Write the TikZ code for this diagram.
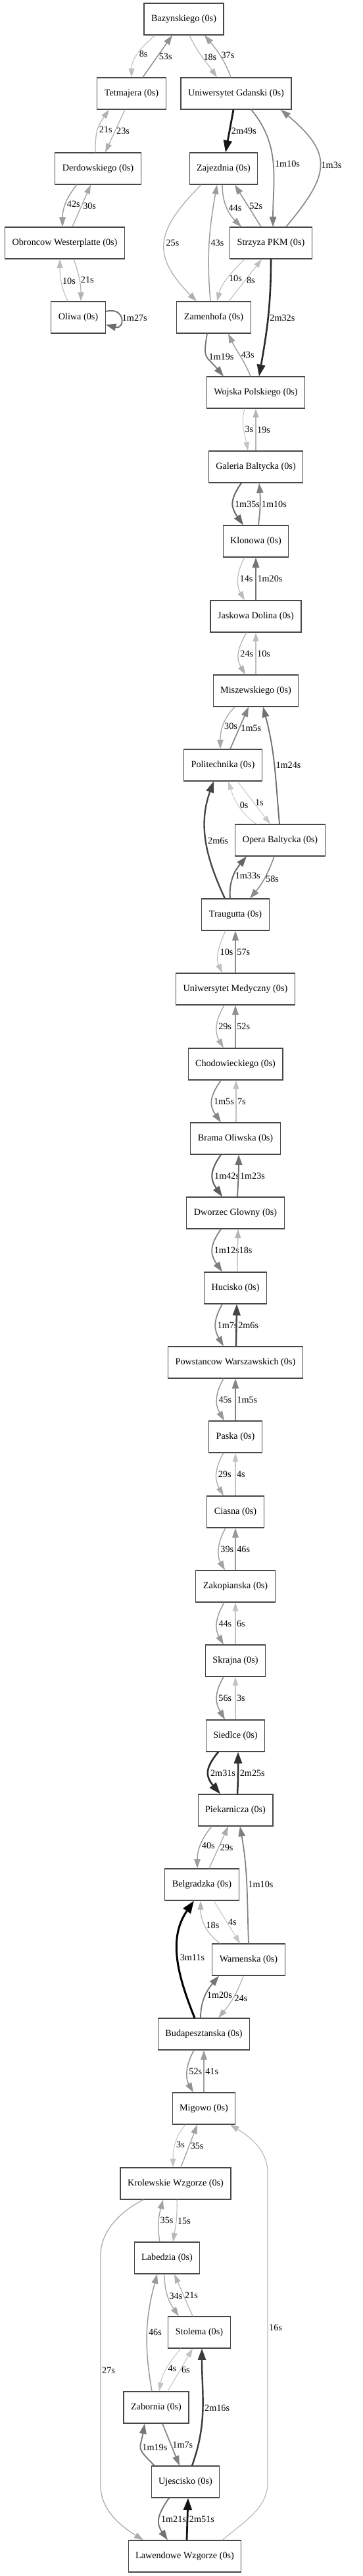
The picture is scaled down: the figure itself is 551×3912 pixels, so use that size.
\documentclass[tikz,border=0pt]{standalone}
\usepackage{fontspec}
\setmainfont{Liberation Serif}
\usetikzlibrary{arrows.meta}

\begin{document}
\begin{tikzpicture}[x=0.75pt, y=0.75pt,
  font=\fontsize{10.65pt}{12pt}\selectfont,
  stop/.style = {shape=rectangle, draw=black!72, line width=0.85pt,
    minimum height=36pt, inner xsep=8.25pt},
  lbl/.style = {anchor=west, inner sep=1.2pt},
  sec/.style = {/utils/exec={\pgfmathtruncatemacro\edgegray{22+0.41*#1}%
      \pgfmathsetmacro\edgewidth{0.75+1.5*#1/191}},
    draw=black!\edgegray, line width=\edgewidth pt,
    -{Triangle[length=7.5pt 3, width=4.5pt 2.5]}},
 ]
 \useasboundingbox (0,0) rectangle (551,-3912);

 \node[stop] (baz) at (279.5,-29) {Bazynskiego (0s)};
 \node[stop] (tet) at (200,-142) {Tetmajera (0s)};
 \node[stop] (ug) at (359,-142) {Uniwersytet Gdanski (0s)};
 \node[stop] (der) at (149,-256) {Derdowskiego (0s)};
 \node[stop] (zaj) at (340,-256) {Zajezdnia (0s)};
 \node[stop] (obr) at (98.5,-369) {Obroncow Westerplatte (0s)};
 \node[stop] (strz) at (412,-369) {Strzyza PKM (0s)};
 \node[stop] (oli) at (119,-482) {Oliwa (0s)};
 \node[stop] (zam) at (325,-482) {Zamenhofa (0s)};
 \node[stop] (woj) at (389,-596) {Wojska Polskiego (0s)};
 \node[stop] (gal) at (389,-709) {Galeria Baltycka (0s)};
 \node[stop] (klo) at (389,-822) {Klonowa (0s)};
 \node[stop] (jas) at (389,-936) {Jaskowa Dolina (0s)};
 \node[stop] (mis) at (389,-1049) {Miszewskiego (0s)};
 \node[stop] (pol) at (339,-1162) {Politechnika (0s)};
 \node[stop] (ope) at (426,-1276) {Opera Baltycka (0s)};
 \node[stop] (tra) at (358,-1389) {Traugutta (0s)};
 \node[stop] (umed) at (358,-1502) {Uniwersytet Medyczny (0s)};
 \node[stop] (cho) at (358,-1616) {Chodowieckiego (0s)};
 \node[stop] (bra) at (358,-1729) {Brama Oliwska (0s)};
 \node[stop] (dwo) at (358,-1842) {Dworzec Glowny (0s)};
 \node[stop] (huc) at (358,-1956) {Hucisko (0s)};
 \node[stop] (pow) at (358,-2069) {Powstancow Warszawskich (0s)};
 \node[stop] (pas) at (358,-2182) {Paska (0s)};
 \node[stop] (cia) at (358,-2296) {Ciasna (0s)};
 \node[stop] (zak) at (358,-2409) {Zakopianska (0s)};
 \node[stop] (skr) at (358,-2522) {Skrajna (0s)};
 \node[stop] (sie) at (358,-2636) {Siedlce (0s)};
 \node[stop] (pie) at (358,-2749) {Piekarnicza (0s)};
 \node[stop] (bel) at (307,-2862) {Belgradzka (0s)};
 \node[stop] (war) at (378,-2976) {Warnenska (0s)};
 \node[stop] (bud) at (310,-3089) {Budapesztanska (0s)};
 \node[stop] (mig) at (310,-3202) {Migowo (0s)};
 \node[stop] (kro) at (267,-3316) {Krolewskie Wzgorze (0s)};
 \node[stop] (lab) at (254,-3429) {Labedzia (0s)};
 \node[stop] (sto) at (303,-3542) {Stolema (0s)};
 \node[stop] (zab) at (237.5,-3656) {Zabornia (0s)};
 \node[stop] (uje) at (282,-3769) {Ujescisko (0s)};
 \node[stop] (law) at (281,-3882) {Lawendowe Wzgorze (0s)};

 \draw[sec=8] (baz.south -| 236,0) to[out=-140,in=90] node[lbl] {8s} (tet.north -| 200,0);
 \draw[sec=53] (tet.north -| 217,0) -- node[lbl] {53s} (baz.south -| 262,0);
 \draw[sec=18] (baz.south -| 288,0) to[out=-65,in=125] node[lbl] {18s} (ug.north -| 330,0);
 \draw[sec=37] (ug.north -| 351,0) to[out=110,in=-50] node[lbl] {37s} (baz.south -| 311,0);
 \draw[sec=23] (tet.south -| 190,0) -- node[lbl] {23s} (der.north -| 160,0);
 \draw[sec=21] (der.north -| 145,0) to[out=90,in=-125,looseness=1.2] node[lbl] {21s} (tet.south -| 166,0);
 \draw[sec=169] (ug.south -| 355,0) -- node[lbl] {2m49s} (zaj.north -| 343,0);
 \draw[sec=70] (ug.south -| 382,0) to[out=-50,in=90] node[lbl] {1m10s} (strz.north -| 415,0);
 \draw[sec=63] (strz.north -| 435,0) to[out=50,in=-40,looseness=1.5] node[lbl] {1m3s} (ug.south -| 427,0);
 \draw[sec=44] (zaj.south -| 338,0) to[out=-90,in=135] node[lbl] {44s} (strz.north -| 367,0);
 \draw[sec=52] (strz.north -| 397,0) -- node[lbl] {52s} (zaj.south -| 357,0);
 \draw[sec=25] (zaj.south -| 306,0) to[out=-135,in=135,looseness=1.42] node[lbl] {25s} (zam.north -| 299,0);
 \draw[sec=43] (zam.north -| 320,0) to[out=95,in=-100] node[lbl] {43s} (zaj.south -| 330,0);
 \draw[sec=10] (strz.south -| 372,0) to[out=-135,in=75] node[lbl] {10s} (zam.north -| 330,0);
 \draw[sec=8] (zam.north -| 348,0) -- node[lbl] {8s} (strz.south -| 398,0);
 \draw[sec=152] (strz.south -| 412,0) to[out=-90,in=80] node[lbl] {2m32s} (woj.north -| 394,0);
 \draw[sec=79] (zam.south -| 315,0) to[out=-100,in=130,looseness=1.5] node[lbl] {1m19s} (woj.north -| 340,0);
 \draw[sec=43] (woj.north -| 381,0) to[out=112,in=-65] node[lbl] {43s} (zam.south -| 347,0);
 \draw[sec=42] (der.south -| 117,0) to[out=-130,in=90] node[lbl] {42s} (obr.north -| 95,0);
 \draw[sec=30] (obr.north -| 110,0) -- node[lbl] {30s} (der.south -| 138,0);
 \draw[sec=21] (obr.south -| 112,0) to[out=-70,in=90] node[lbl] {21s} (oli.north -| 123,0);
 \draw[sec=10] (oli.north -| 103,0) to[out=115,in=-90] node[lbl] {10s} (obr.south -| 91,0);
 \draw[sec=87] (oli.east |- 0,-473) to[out=15,in=-15,looseness=4] node[lbl] {1m27s} (oli.east |- 0,-493);

 \draw[sec=3] (woj.south -| 372,0) to[out=-105,in=100] node[lbl] {3s} (gal.north -| 377,0);
 \draw[sec=19] (gal.north -| 389,0) -- node[lbl] {19s} (woj.south -| 389,0);
 \draw[sec=95] (gal.south -| 367,0) to[out=-125,in=125,looseness=1.3] node[lbl] {1m35s} (klo.north -| 370,0);
 \draw[sec=70] (klo.north -| 393,0) to[out=83,in=-85] node[lbl] {1m10s} (gal.south -| 394,0);
 \draw[sec=14] (klo.south -| 372,0) to[out=-120,in=120] node[lbl] {14s} (jas.north -| 372,0);
 \draw[sec=80] (jas.north -| 389,0) -- node[lbl] {1m20s} (klo.south -| 389,0);
 \draw[sec=24] (jas.south -| 375,0) to[out=-120,in=120,looseness=1.15] node[lbl] {24s} (mis.north -| 373,0);
 \draw[sec=10] (mis.north -| 389,0) -- node[lbl] {10s} (jas.south -| 389,0);
 \draw[sec=30] (mis.south -| 357,0) to[out=-135,in=90] node[lbl] {30s} (pol.north -| 335,0);
 \draw[sec=65] (pol.north -| 350,0) -- node[lbl] {1m5s} (mis.south -| 378,0);
 \draw[sec=84] (ope.north -| 425,0) to[out=95,in=-75] node[lbl] {1m24s} (mis.south -| 400,0);
 \draw[sec=1] (pol.south -| 361,0) -- node[lbl] {1s} (ope.north -| 411,0);
 \draw[sec=0] (ope.north -| 390,0) to[out=145,in=-72] node[lbl] {0s} (pol.south -| 347,0);
 \draw[sec=126] (tra.north -| 342,0) to[out=115,in=-110] node[lbl] {2m6s} (pol.south -| 325,0);
 \draw[sec=93] (tra.north -| 350,0) to[out=95,in=-130] node[lbl] {1m33s} (ope.south -| 375,0);
 \draw[sec=58] (ope.south -| 417,0) to[out=-110,in=50] node[lbl] {58s} (tra.north -| 380,0);

 \draw[sec=10] (tra.south -| 343,0) to[out=-115,in=115] node[lbl] {10s} (umed.north -| 338,0);
 \draw[sec=57] (umed.north -| 358,0) -- node[lbl] {57s} (tra.south -| 358,0);
 \draw[sec=29] (umed.south -| 341,0) to[out=-120,in=120,looseness=1.1] node[lbl] {29s} (cho.north -| 340,0);
 \draw[sec=52] (cho.north -| 358,0) -- node[lbl] {52s} (umed.south -| 358,0);
 \draw[sec=65] (cho.south -| 336,0) to[out=-125,in=125,looseness=1.25] node[lbl] {1m5s} (bra.north -| 336,0);
 \draw[sec=7] (bra.north -| 359,0) -- node[lbl] {7s} (cho.south -| 359,0);
 \draw[sec=102] (bra.south -| 336,0) to[out=-125,in=125,looseness=1.25] node[lbl] {1m42s} (dwo.north -| 338,0);
 \draw[sec=83] (dwo.north -| 361,0) to[out=87,in=-90] node[lbl] {1m23s} (bra.south -| 363,0);
 \draw[sec=72] (dwo.south -| 336,0) to[out=-125,in=125,looseness=1.25] node[lbl] {1m12s} (huc.north -| 338,0);
 \draw[sec=18] (huc.north -| 361,0) -- node[lbl] {18s} (dwo.south -| 362,0);
 \draw[sec=67] (huc.south -| 338,0) to[out=-120,in=120,looseness=1.15] node[lbl] {1m7s} (pow.north -| 340,0);
 \draw[sec=126] (pow.north -| 359,0) -- node[lbl] {2m6s} (huc.south -| 360,0);
 \draw[sec=45] (pow.south -| 340,0) to[out=-120,in=120,looseness=1.1] node[lbl] {45s} (pas.north -| 341,0);
 \draw[sec=65] (pas.north -| 358,0) -- node[lbl] {1m5s} (pow.south -| 358,0);
 \draw[sec=29] (pas.south -| 340,0) to[out=-120,in=120,looseness=1.1] node[lbl] {29s} (cia.north -| 340,0);
 \draw[sec=4] (cia.north -| 358,0) -- node[lbl] {4s} (pas.south -| 358,0);
 \draw[sec=39] (cia.south -| 343,0) to[out=-120,in=120] node[lbl] {39s} (zak.north -| 342,0);
 \draw[sec=46] (zak.north -| 358,0) -- node[lbl] {46s} (cia.south -| 358,0);
 \draw[sec=44] (zak.south -| 341,0) to[out=-120,in=120,looseness=1.1] node[lbl] {44s} (skr.north -| 340,0);
 \draw[sec=6] (skr.north -| 358,0) -- node[lbl] {6s} (zak.south -| 358,0);
 \draw[sec=56] (skr.south -| 340,0) to[out=-120,in=120,looseness=1.15] node[lbl] {56s} (sie.north -| 342,0);
 \draw[sec=3] (sie.north -| 358,0) -- node[lbl] {3s} (skr.south -| 358,0);
 \draw[sec=151] (sie.south -| 332,0) to[out=-130,in=130,looseness=1.35] node[lbl] {2m31s} (pie.north -| 335,0);
 \draw[sec=145] (pie.north -| 361,0) to[out=87,in=-90] node[lbl] {2m25s} (sie.south -| 362,0);

 \draw[sec=40] (pie.south -| 322,0) to[out=-130,in=90] node[lbl] {40s} (bel.north -| 300,0);
 \draw[sec=29] (bel.north -| 318,0) -- node[lbl] {29s} (pie.south -| 347,0);
 \draw[sec=70] (war.north -| 378,0) to[out=92,in=-80] node[lbl] {1m10s} (pie.south -| 365,0);
 \draw[sec=4] (bel.south -| 325,0) -- node[lbl] {4s} (war.north -| 365,0);
 \draw[sec=18] (war.north -| 335,0) to[out=145,in=-90] node[lbl] {18s} (bel.south -| 305,0);
 \draw[sec=191] (bud.north -| 296,0) to[out=112,in=-125] node[lbl] {3m11s} (bel.south -| 295,0);
 \draw[sec=80] (bud.north -| 305,0) to[out=90,in=-130] node[lbl] {1m20s} (war.south -| 333,0);
 \draw[sec=24] (war.south -| 370,0) to[out=-110,in=50] node[lbl] {24s} (bud.north -| 332,0);
 \draw[sec=52] (bud.south -| 295,0) to[out=-120,in=120] node[lbl] {52s} (mig.north -| 294,0);
 \draw[sec=41] (mig.north -| 310,0) -- node[lbl] {41s} (bud.south -| 310,0);
 \draw[sec=3] (mig.south -| 282,0) to[out=-130,in=90] node[lbl] {3s} (kro.north -| 263,0);
 \draw[sec=35] (kro.north -| 275,0) -- node[lbl] {35s} (mig.south -| 300,0);

 \draw[sec=16] (law.north -| 338,0) .. controls (370,-3830) and (407,-3810) .. (407,-3770)
   -- node[lbl] {16s} (407,-3300) .. controls (407,-3265) and (380,-3245) .. (mig.south -| 350,0);
 \draw[sec=27] (kro.south -| 218,0) .. controls (180,-3360) and (153,-3390) .. (153,-3425)
   -- node[lbl] {27s} (153,-3775) .. controls (153,-3815) and (190,-3840) .. (law.north -| 218,0);
 \draw[sec=35] (lab.north -| 243,0) to[out=100,in=-105] node[lbl] {35s} (kro.south -| 248,0);
 \draw[sec=15] (kro.south -| 269,0) to[out=-88,in=80] node[lbl] {15s} (lab.north -| 263,0);
 \draw[sec=34] (lab.south -| 250,0) to[out=-90,in=125] node[lbl] {34s} (sto.north -| 272,0);
 \draw[sec=21] (sto.north -| 293,0) -- node[lbl] {21s} (lab.south -| 265,0);
 \draw[sec=46] (zab.north -| 231,0) to[out=100,in=-105] node[lbl] {46s} (lab.south -| 239,0);
 \draw[sec=4] (sto.south -| 275,0) to[out=-130,in=80] node[lbl] {4s} (zab.north -| 242,0);
 \draw[sec=6] (zab.north -| 255,0) -- node[lbl] {6s} (sto.south -| 293,0);
 \draw[sec=136] (uje.north -| 292,0) to[out=70,in=-90] node[lbl] {2m16s} (sto.south -| 307,0);
 \draw[sec=79] (uje.north -| 235,0) to[out=135,in=-100,looseness=1.6] node[lbl] {1m19s} (zab.south -| 220,0);
 \draw[sec=67] (zab.south -| 247,0) -- node[lbl] {1m7s} (uje.north -| 273,0);
 \draw[sec=81] (uje.south -| 257,0) to[out=-125,in=125,looseness=1.25] node[lbl] {1m21s} (law.north -| 255,0);
 \draw[sec=171] (law.north -| 284,0) -- node[lbl] {2m51s} (uje.south -| 286,0);
\end{tikzpicture}
\end{document}
